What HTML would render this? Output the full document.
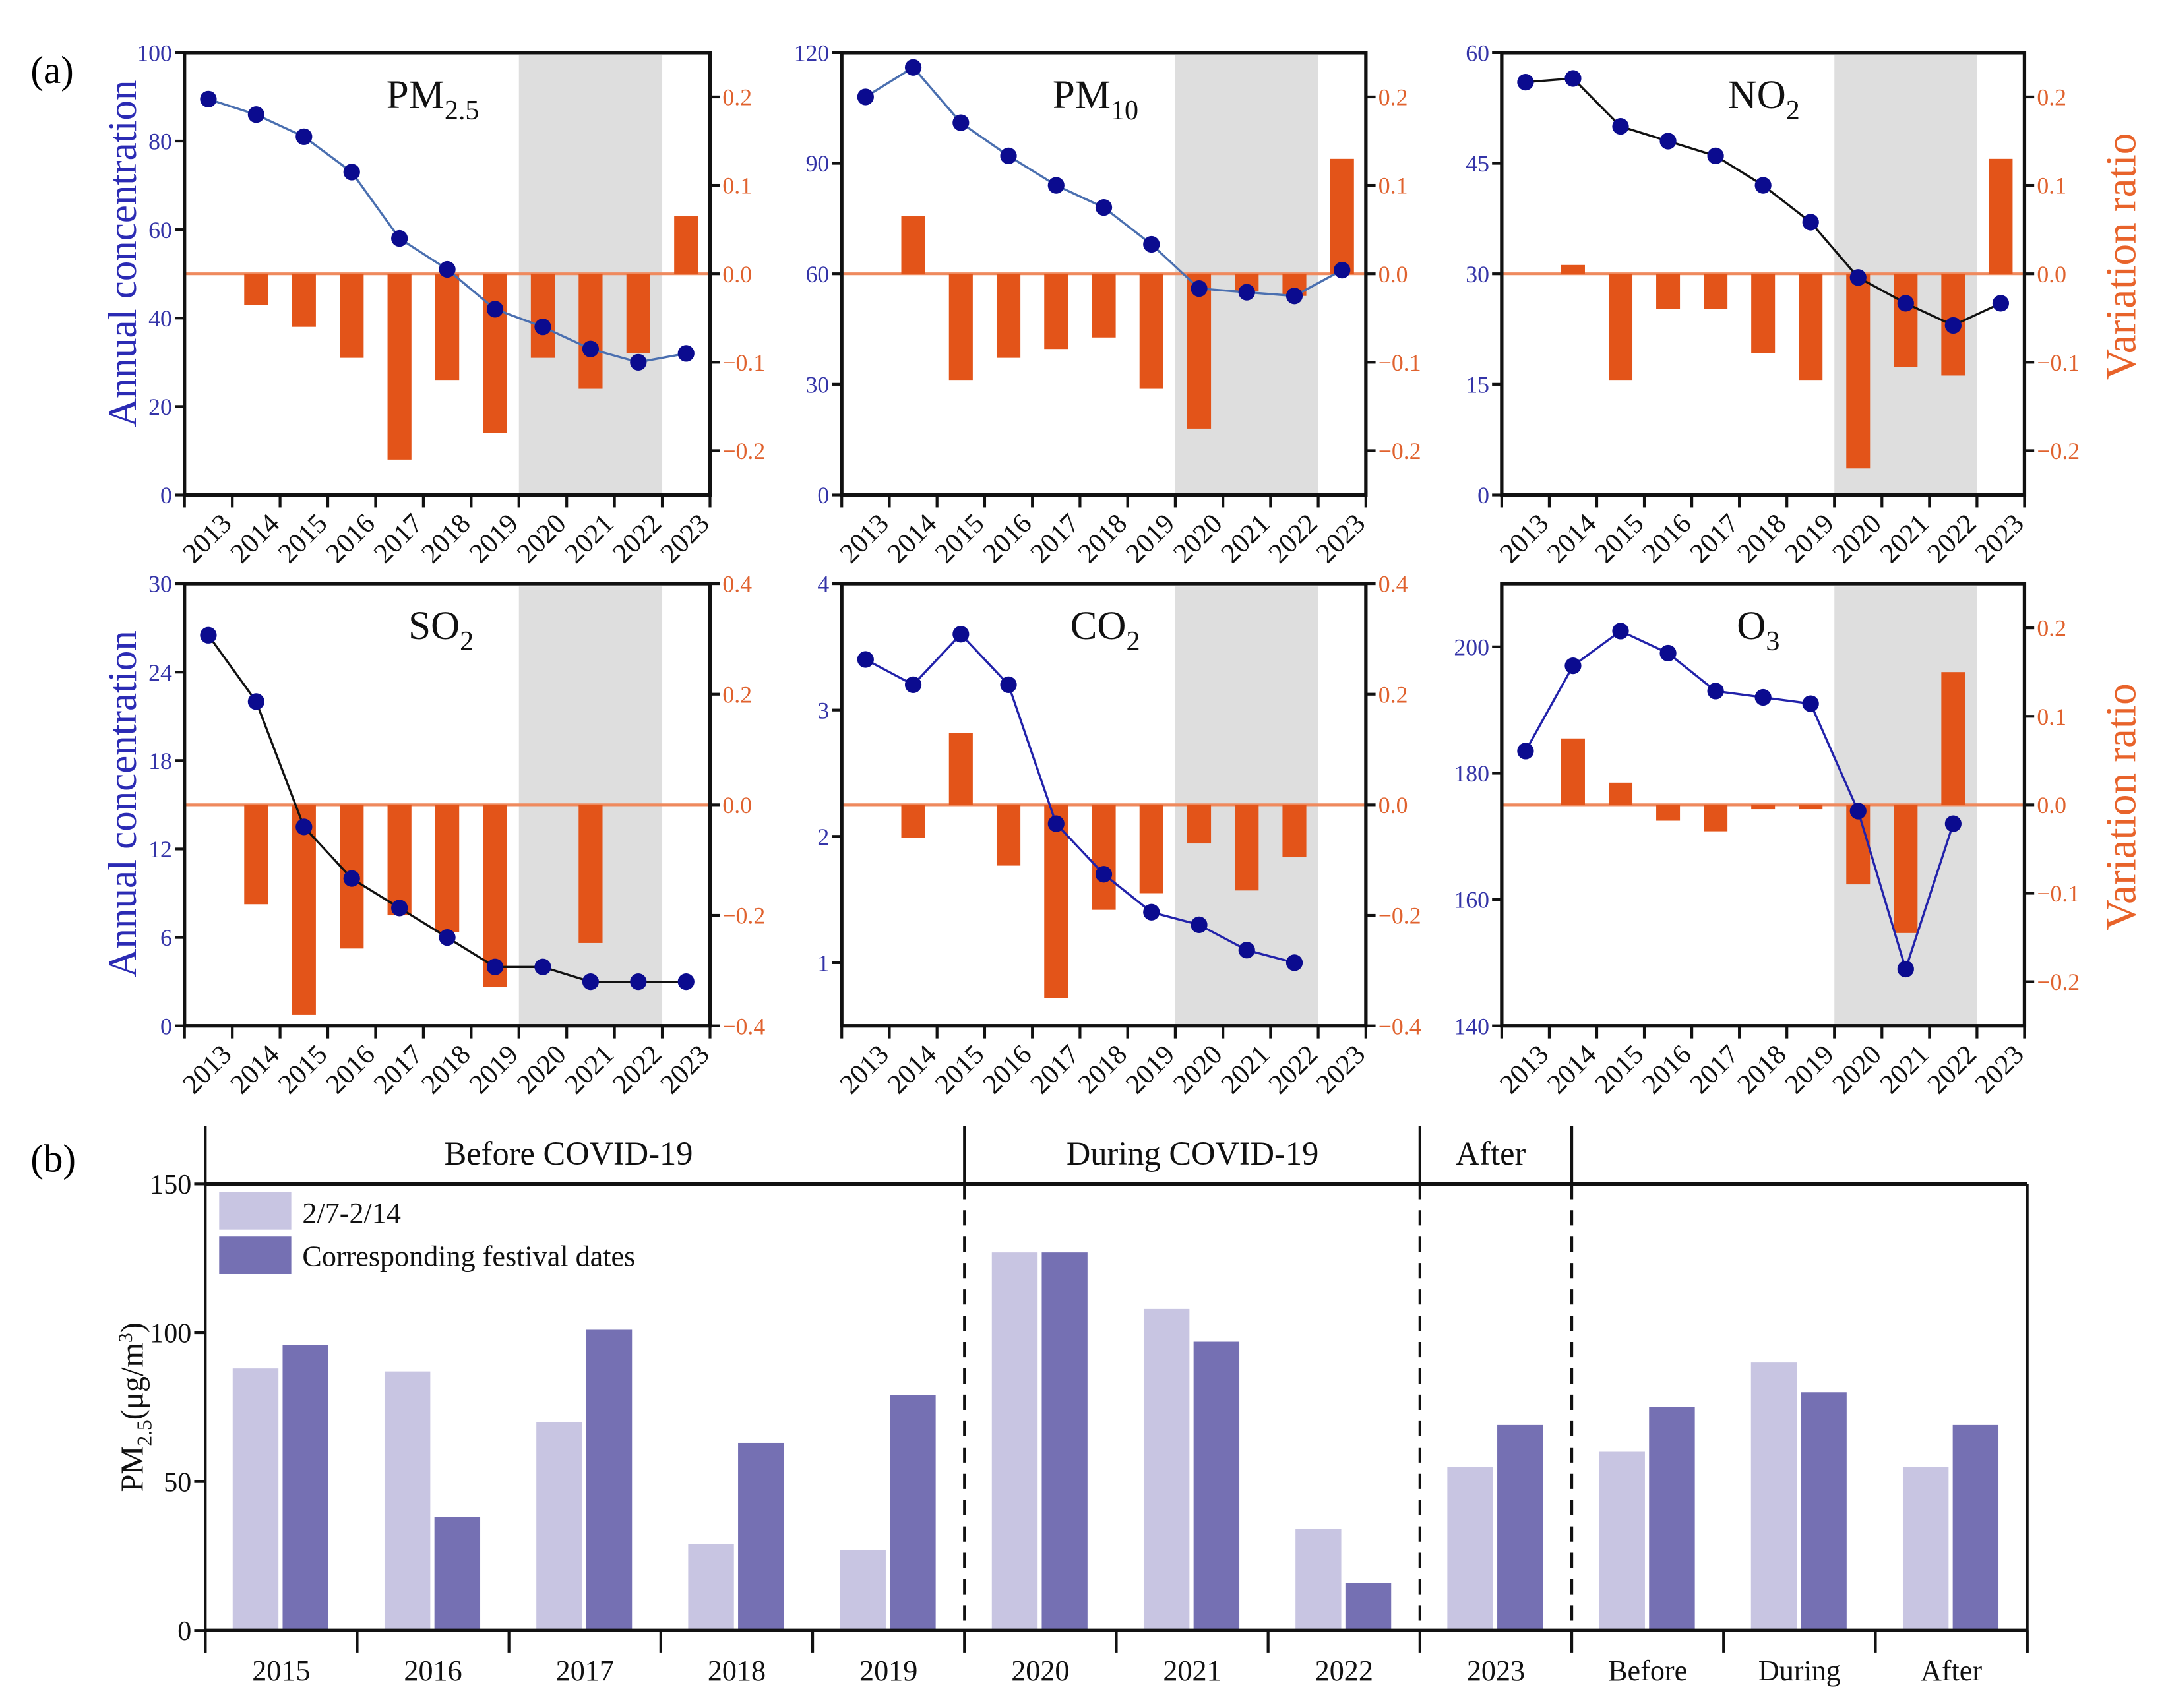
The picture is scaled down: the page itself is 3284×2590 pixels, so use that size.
<!DOCTYPE html>
<html><head><meta charset="utf-8">
<style>
html,body{margin:0;padding:0;background:#fff;}
svg{display:block;}
svg text{font-family:"Liberation Serif",serif;}
</style></head>
<body>
<svg id="fig" width="3284" height="2590" viewBox="0 0 1562 1232" xmlns="http://www.w3.org/2000/svg">
<text x="22" y="60" font-size="28">(a)</text>
<text x="22" y="845" font-size="28">(b)</text>
<text transform="translate(98,183) rotate(-90)" text-anchor="middle" font-size="29" fill="#2b2bb4">Annual concentration</text>
<text transform="translate(98,580) rotate(-90)" text-anchor="middle" font-size="29" fill="#2b2bb4">Annual concentration</text>
<text transform="translate(1540,185) rotate(-90)" text-anchor="middle" font-size="31" fill="#e8632a">Variation ratio</text>
<text transform="translate(1540,582) rotate(-90)" text-anchor="middle" font-size="31" fill="#e8632a">Variation ratio</text>
<g id="panels"></g>
<g id="pb"></g>
</svg>
<script>
const years = ["2013","2014","2015","2016","2017","2018","2019","2020","2021","2022","2023"];
const pm25Conc = [89.5,86,81,73,58,51,42,38,33,30,32];
const pm25Ratio = [null,-0.035,-0.06,-0.095,-0.21,-0.12,-0.18,-0.095,-0.13,-0.09,0.065];
const pm10Conc = [108,116,101,92,84,78,68,56,55,54,61];
const pm10Ratio = [null,0.065,-0.12,-0.095,-0.085,-0.072,-0.13,-0.175,-0.02,-0.025,0.13];
const no2Conc = [56,56.5,50,48,46,42,37,29.5,26,23,26];
const no2Ratio = [null,0.01,-0.12,-0.04,-0.04,-0.09,-0.12,-0.22,-0.105,-0.115,0.13];
const so2Conc = [26.5,22,13.5,10,8,6,4,4,3,3,3];
const so2Ratio = [null,-0.18,-0.38,-0.26,-0.2,-0.23,-0.33,0,-0.25,0,0];
const co2Conc = [3.4,3.2,3.6,3.2,2.1,1.7,1.4,1.3,1.1,1.0];
const co2Ratio = [null,-0.06,0.13,-0.11,-0.35,-0.19,-0.16,-0.07,-0.155,-0.095];
const o3Conc = [183.5,197,202.5,199,193,192,191,174,149,172];
const o3Ratio = [null,0.075,0.025,-0.018,-0.03,-0.005,-0.005,-0.09,-0.145,0.15];

const ticksPM25 = [0,20,40,60,80,100];
const ticksPM10 = [0,30,60,90,120];
const ticksNO2 = [0,15,30,45,60];
const ticksSO2 = [0,6,12,18,24,30];
const ticksCO2 = [1,2,3,4];
const ticksO3 = [140,160,180,200];
const rTicks25 = ["0.2","0.1","0.0","-0.1","-0.2"];
const rTicks40 = ["0.4","0.2","0.0","-0.2","-0.4"];

const groups = ["2015","2016","2017","2018","2019","2020","2021","2022","2023","Before","During","After"];
const lightVals = [88,87,70,29,27,127,108,34,55,60,90,55];
const darkVals = [96,38,101,63,79,127,97,16,69,75,80,69];
const bTicks = [0,50,100,150];

const NS="http://www.w3.org/2000/svg";
function mk(tag,attrs,parent){const e=document.createElementNS(NS,tag);for(const k in attrs)e.setAttribute(k,attrs[k]);parent.appendChild(e);return e;}

const panels=[
 {id:"pm25",t:"PM",s:"2.5",x0:133,x1:512,y0:38,y1:357,lmin:0,lmax:100,lt:ticksPM25,rr:0.25,rt:rTicks25,conc:pm25Conc,ratio:pm25Ratio,lc:"#4a6fb0",tx:312,ty:78},
 {id:"pm10",t:"PM",s:"10",x0:607,x1:985,y0:38,y1:357,lmin:0,lmax:120,lt:ticksPM10,rr:0.25,rt:rTicks25,conc:pm10Conc,ratio:pm10Ratio,lc:"#4a6fb0",tx:790,ty:78},
 {id:"no2",t:"NO",s:"2",x0:1083,x1:1460,y0:38,y1:357,lmin:0,lmax:60,lt:ticksNO2,rr:0.25,rt:rTicks25,conc:no2Conc,ratio:no2Ratio,lc:"#111",tx:1272,ty:78},
 {id:"so2",t:"SO",s:"2",x0:133,x1:512,y0:421,y1:740,lmin:0,lmax:30,lt:ticksSO2,rr:0.4,rt:rTicks40,conc:so2Conc,ratio:so2Ratio,lc:"#111",tx:318,ty:461},
 {id:"co2",t:"CO",s:"2",x0:607,x1:985,y0:421,y1:740,lmin:0.5,lmax:4,lt:ticksCO2,rr:0.4,rt:rTicks40,conc:co2Conc,ratio:co2Ratio,lc:"#2222aa",tx:797,ty:461},
 {id:"o3",t:"O",s:"3",x0:1083,x1:1460,y0:421,y1:740,lmin:140,lmax:210,lt:ticksO3,rr:0.25,rt:rTicks25,conc:o3Conc,ratio:o3Ratio,lc:"#2222aa",tx:1268,ty:461}
];
const root=document.getElementById("panels");
panels.forEach(p=>{
 const g=mk("g",{},root);
 
 
 const n=years.length, cw=(p.x1-p.x0)/n;
 const X=i=>p.x0+cw*(i+0.5);
 const YL=v=>p.y1-(v-p.lmin)/(p.lmax-p.lmin)*(p.y1-p.y0);
 const YR=v=>(p.y0+p.y1)/2-v/(2*p.rr)*(p.y1-p.y0);
 const sh=mk("rect",{x:p.x0+cw*7,y:p.y0+2,width:cw*3,height:p.y1-p.y0-2,fill:"#dedede"},g);
 
 
 const zl=mk("line",{x1:p.x0,x2:p.x1,y1:YR(0),y2:YR(0),stroke:"#ef8a5e","stroke-width":2},g);
 
 
 p.ratio.forEach((v,i)=>{
  if(v===null||v===0)return;
  const b=mk("rect",{x:X(i)-cw*0.25,y:Math.min(YR(v),YR(0)),width:cw*0.5,height:Math.abs(YR(v)-YR(0)),fill:"#e35419"},g);
  
  
 });
 const pts=p.conc.map((v,i)=>X(i)+","+YL(v)).join(" ");
 const ln=mk("polyline",{points:pts,fill:"none",stroke:p.lc,"stroke-width":1.6},g);
 
 
 p.conc.forEach((v,i)=>{
  const c=mk("circle",{cx:X(i),cy:YL(v),r:6,fill:"#0b0b8f"},g);
  
  
 });
 const fr=mk("rect",{x:p.x0,y:p.y0,width:p.x1-p.x0,height:p.y1-p.y0,fill:"none",stroke:"#111","stroke-width":2.5},g);
 
 
 p.lt.forEach(v=>{
  mk("line",{x1:p.x0-7,x2:p.x0,y1:YL(v),y2:YL(v),stroke:"#111","stroke-width":2},g);
  const t=mk("text",{x:p.x0-9,y:YL(v)+6,"text-anchor":"end","font-size":17,fill:"#3434a8"},g);
  t.textContent=v;
  
  
 });
 p.rt.forEach((s,k)=>{
  const v=parseFloat(s), y=YR(v);
  mk("line",{x1:p.x1,x2:p.x1+7,y1:y,y2:y,stroke:"#111","stroke-width":2},g);
  const t=mk("text",{x:p.x1+9,y:y+6,"font-size":17,fill:"#e0622e"},g);
  t.textContent=s.replace("-","\u2212");
  
  
 });
 for(let i=0;i<=n;i++){mk("line",{x1:p.x0+cw*i,x2:p.x0+cw*i,y1:p.y1,y2:p.y1+9,stroke:"#111","stroke-width":2},g);}
 years.forEach((y,i)=>{
  const xx=X(i)+10, yy=p.y1+14;
  const t=mk("text",{x:xx,y:yy,"text-anchor":"end","font-size":20,fill:"#111",transform:`rotate(-45 ${xx} ${yy})`,dy:"11"},g);
  t.textContent=y;
  
  
 });
 const tt=mk("text",{x:p.tx,y:p.ty,"text-anchor":"middle","font-size":29,fill:"#111"},g);
 
 
 const a=document.createElementNS(NS,"tspan");a.textContent=p.t;tt.appendChild(a);
 const b=document.createElementNS(NS,"tspan");b.setAttribute("font-size","20");b.setAttribute("dy","8");b.textContent=p.s;tt.appendChild(b);
});

// panel b
(function(){
 const g=document.getElementById("pb");
 const x0=148,x1=1462,y0=854,y1=1176,top=812,vmax=150;
 const n=groups.length, cw=(x1-x0)/n;
 const Y=v=>y1-v/vmax*(y1-y0);
 const C=i=>x0+cw*(i+0.5);
 lightVals.forEach((v,i)=>{
  const r=mk("rect",{x:C(i)-35,y:Y(v),width:33,height:y1-Y(v),fill:"#c8c5e2"},g);
  
  
 });
 darkVals.forEach((v,i)=>{
  const r=mk("rect",{x:C(i)+1,y:Y(v),width:33,height:y1-Y(v),fill:"#7570b3"},g);
  
  
 });
 mk("line",{x1:x0,x2:x0,y1:top,y2:y1+16,stroke:"#111","stroke-width":2},g);
 mk("line",{x1:x1,x2:x1,y1:y0,y2:y1+16,stroke:"#111","stroke-width":2},g);
 mk("line",{x1:x0,x2:x1,y1:y0,y2:y0,stroke:"#111","stroke-width":2.5},g);
 mk("line",{x1:x0,x2:x1,y1:y1,y2:y1,stroke:"#111","stroke-width":2.5},g);
 [5,8,9].forEach(k=>{
  const xx=x0+cw*k;
  mk("line",{x1:xx,x2:xx,y1:top,y2:y0,stroke:"#111","stroke-width":2},g);
  const d=mk("line",{x1:xx,x2:xx,y1:y0,y2:y1,stroke:"#111","stroke-width":2,"stroke-dasharray":"11,8"},g);
  
  
 });
 for(let i=0;i<=n;i++){mk("line",{x1:x0+cw*i,x2:x0+cw*i,y1:y1,y2:y1+16,stroke:"#111","stroke-width":2},g);}
 groups.forEach((s,i)=>{
  const t=mk("text",{x:C(i),y:y1+36,"text-anchor":"middle","font-size":21,fill:"#111"},g);
  t.textContent=s;
  
  
 });
 bTicks.forEach(v=>{
  mk("line",{x1:x0-8,x2:x0,y1:Y(v),y2:Y(v),stroke:"#111","stroke-width":2},g);
  const t=mk("text",{x:x0-10,y:Y(v)+7,"text-anchor":"end","font-size":20,fill:"#111"},g);
  t.textContent=v;
  
  
 });
 [["Before COVID-19",410],["During COVID-19",860],["After",1075]].forEach(h=>{
  const t=mk("text",{x:h[1],y:840,"text-anchor":"middle","font-size":24,fill:"#111"},g);
  t.textContent=h[0];
  
  
 });
 const l1=mk("rect",{x:158,y:860,width:52,height:27,fill:"#c8c5e2"},g);
 
 
 const l2=mk("rect",{x:158,y:892,width:52,height:27,fill:"#7570b3"},g);
 
 
 const t1=mk("text",{x:218,y:882,"font-size":21,fill:"#111"},g);t1.textContent="2/7-2/14";
 
 
 const t2=mk("text",{x:218,y:913,"font-size":21,fill:"#111"},g);t2.textContent="Corresponding festival dates";
 
 
 const yt=mk("text",{transform:"translate(103,1015) rotate(-90)","text-anchor":"middle","font-size":23,fill:"#111"},g);
 
 
 const p1=document.createElementNS(NS,"tspan");p1.textContent="PM";yt.appendChild(p1);
 const p2=document.createElementNS(NS,"tspan");p2.setAttribute("font-size","15");p2.setAttribute("dy","6");p2.textContent="2.5";yt.appendChild(p2);
 const p3=document.createElementNS(NS,"tspan");p3.setAttribute("dy","-6");p3.textContent="(μg/m";yt.appendChild(p3);
 const p4=document.createElementNS(NS,"tspan");p4.setAttribute("font-size","14");p4.setAttribute("dy","-8");p4.textContent="3";yt.appendChild(p4);
 const p5=document.createElementNS(NS,"tspan");p5.setAttribute("dy","8");p5.textContent=")";yt.appendChild(p5);
})();
</script>
</body></html>
